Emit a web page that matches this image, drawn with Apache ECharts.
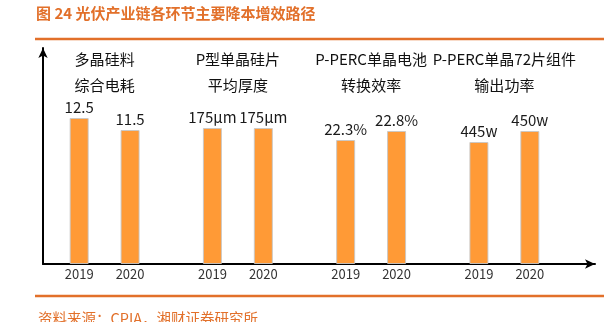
<!DOCTYPE html>
<html>
<head>
<meta charset="utf-8">
<script src="https://cdn.jsdelivr.net/npm/echarts@6/dist/echarts.min.js"></script>
<style>
html,body{margin:0;padding:0;background:#fff;}
#c{width:614px;height:322px;}
</style>
</head>
<body>
<div id="c"></div>
<script>
// Group titles (categories)
const groups = ['多晶硅料\n综合电耗', 'P型单晶硅片\n平均厚度', 'P-PERC单晶电池\n转换效率', 'P-PERC单晶72片组件\n输出功率'];
const years = ['2019', '2020'];
// Displayed value labels
const labels2019 = ['12.5', '175μm', '22.3%', '445w'];
const labels2020 = ['11.5', '175μm', '22.8%', '450w'];
// Schematic bar heights (arbitrary units, axis 0..216)
const height2019 = [146, 136, 124, 122];
const height2020 = [134, 136, 133, 133];
const zeros = [0, 0, 0, 0];

const orange = '#E2702A';
const barColor = '#FF9A36';
const font = '"Noto Sans CJK SC", "Noto Sans", sans-serif';

const chart = echarts.init(document.getElementById('c'), null, {renderer: 'canvas'});

function valueSeries(name, heights, labels, stack) {
  return {
    name: name, type: 'bar', stack: stack, xAxisIndex: 0, yAxisIndex: 0,
    barWidth: 19, barGap: '168%',
    data: heights,
    itemStyle: {color: barColor, borderColor: 'rgba(200,200,200,0.9)', borderWidth: 1},
    label: {
      show: true, position: 'top', distance: 3,
      fontFamily: font, fontSize: 15, color: '#1a1a1a',
      formatter: p => labels[p.dataIndex]
    },
    silent: true
  };
}
function yearSeries(year, stack) {
  return {
    name: year + 'y', type: 'bar', stack: stack, xAxisIndex: 0, yAxisIndex: 0,
    barWidth: 19, barGap: '168%',
    data: zeros,
    itemStyle: {color: 'transparent'},
    label: {
      show: true, position: 'bottom', distance: 4,
      fontFamily: font, fontSize: 13, color: '#333',
      formatter: () => year
    },
    silent: true
  };
}

const option = {
  animation: false,
  backgroundColor: '#fff',
  grid: [
    {left: 38, right: 43, top: 48, bottom: 58},
    {left: 43, right: 19, top: 48, bottom: 58}
  ],
  xAxis: [
    {type: 'category', gridIndex: 0, data: groups, axisLine: {show: false}, axisTick: {show: false}, axisLabel: {show: false}},
    {type: 'category', gridIndex: 0, position: 'top', data: groups,
      axisLine: {show: false}, axisTick: {show: false},
      axisLabel: {inside: true, interval: 0, margin: -2, fontFamily: font, fontSize: 15, lineHeight: 26, color: '#111'}},
    {type: 'value', gridIndex: 1, min: 0, max: 1, splitLine: {show: false}, axisTick: {show: false}, axisLabel: {show: false},
      axisLine: {show: true, symbol: ['none', 'arrow'], symbolSize: [7, 10], lineStyle: {color: '#000', width: 2}}}
  ],
  yAxis: [
    {type: 'value', gridIndex: 0, min: 0, max: 216, show: false},
    {type: 'value', gridIndex: 1, min: 0, max: 1, splitLine: {show: false}, axisTick: {show: false}, axisLabel: {show: false},
      axisLine: {show: true, symbol: ['none', 'arrow'], symbolSize: [7, 10], lineStyle: {color: '#000', width: 2}}}
  ],
  series: [
    yearSeries(years[0], 'a'),
    valueSeries(years[0], height2019, labels2019, 'a'),
    yearSeries(years[1], 'b'),
    valueSeries(years[1], height2020, labels2020, 'b')
  ],
  graphic: [
    {type: 'text', left: 36, top: 6, style: {text: '图 24 光伏产业链各环节主要降本增效路径', fill: orange, font: 'bold 15px ' + font}},
    {type: 'line', shape: {x1: 35, y1: 39, x2: 604, y2: 39}, style: {stroke: orange, lineWidth: 2.5}},
    {type: 'line', shape: {x1: 35, y1: 296, x2: 604, y2: 296}, style: {stroke: orange, lineWidth: 2.5}},
    {type: 'text', left: 38, top: 311, style: {text: '资料来源：CPIA，湘财证券研究所', fill: orange, font: '14.5px ' + font}}
  ]
};
chart.setOption(option);
</script>
</body>
</html>
